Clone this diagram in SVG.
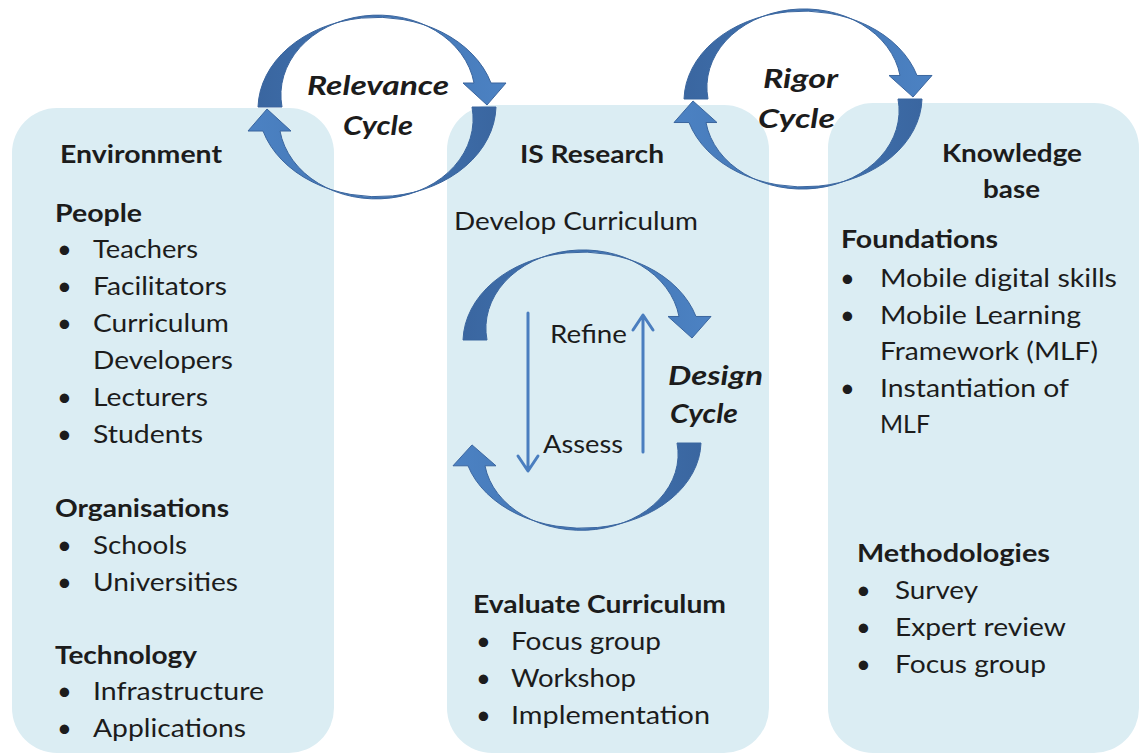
<svg xmlns="http://www.w3.org/2000/svg" width="1141" height="755" viewBox="0 0 1141 755">
  <style>
    .panel { fill: #DBEDF3; }
    text { font-family: Lato, "Open Sans", "Liberation Sans", sans-serif; fill: #1c1c1c; }
    .body { font-size: 25.5px; }
    .head { font-size: 25.5px; font-weight: bold; }
    .cyc { font-size: 27px; font-weight: bold; font-style: italic; }
    .band { fill: url(#bandGrad); stroke: #3A659E; stroke-width: 1; }
    .thin { stroke: #4A7EBF; stroke-width: 3; fill: none; stroke-linecap: round; stroke-linejoin: round; }
  </style>
  <defs>
    <linearGradient id="bandGrad" x1="0" y1="0" x2="1" y2="0">
      <stop offset="0" stop-color="#3A66A0"/>
      <stop offset="0.5" stop-color="#4275B3"/>
      <stop offset="1" stop-color="#4C82C3"/>
    </linearGradient>
    <!-- half-ring arrow: starts flat at the left, sweeps over the top, head points down at the right -->
    <path id="halfRing" class="band" d="M -119 0 A 119 92 0 0 1 114 -24 L 129 -24 L 110 -2 L 86 -24 L 97 -24 A 96 79 0 0 0 -95 0 Z"/>
  </defs>

  <!-- Environment column -->
  <g id="environment">
    <rect class="panel" x="12" y="108" width="322" height="645" rx="45" ry="45"/>
    <text class="head" x="60" y="163" textLength="162" lengthAdjust="spacingAndGlyphs">Environment</text>
    <text class="head" x="55" y="222" textLength="87" lengthAdjust="spacingAndGlyphs">People</text>
    <text class="body" x="57" y="258">•</text>
    <text class="body" x="93" y="258" textLength="105" lengthAdjust="spacingAndGlyphs">Teachers</text>
    <text class="body" x="57" y="295">•</text>
    <text class="body" x="93" y="295" textLength="134" lengthAdjust="spacingAndGlyphs">Facilitators</text>
    <text class="body" x="57" y="332">•</text>
    <text class="body" x="93" y="332" textLength="136" lengthAdjust="spacingAndGlyphs">Curriculum</text>
    <text class="body" x="93" y="369" textLength="140" lengthAdjust="spacingAndGlyphs">Developers</text>
    <text class="body" x="57" y="406">•</text>
    <text class="body" x="93" y="406" textLength="115" lengthAdjust="spacingAndGlyphs">Lecturers</text>
    <text class="body" x="57" y="443">•</text>
    <text class="body" x="93" y="443" textLength="110" lengthAdjust="spacingAndGlyphs">Students</text>
    <text class="head" x="55" y="517" textLength="174" lengthAdjust="spacingAndGlyphs">Organisations</text>
    <text class="body" x="57" y="554">•</text>
    <text class="body" x="93" y="554" textLength="94" lengthAdjust="spacingAndGlyphs">Schools</text>
    <text class="body" x="57" y="591">•</text>
    <text class="body" x="93" y="591" textLength="145" lengthAdjust="spacingAndGlyphs">Universities</text>
    <text class="head" x="55" y="664" textLength="142" lengthAdjust="spacingAndGlyphs">Technology</text>
    <text class="body" x="57" y="700">•</text>
    <text class="body" x="93" y="700" textLength="171" lengthAdjust="spacingAndGlyphs">Infrastructure</text>
    <text class="body" x="57" y="737">•</text>
    <text class="body" x="93" y="737" textLength="153" lengthAdjust="spacingAndGlyphs">Applications</text>
  </g>

  <!-- IS Research column -->
  <g id="is-research">
    <rect class="panel" x="447" y="105" width="322" height="648" rx="45" ry="45"/>
    <text class="head" x="520" y="163" textLength="144" lengthAdjust="spacingAndGlyphs">IS Research</text>
    <text class="body" x="454" y="230" textLength="244" lengthAdjust="spacingAndGlyphs">Develop Curriculum</text>
    <text class="head" x="473" y="613" textLength="253" lengthAdjust="spacingAndGlyphs">Evaluate Curriculum</text>
    <text class="body" x="476" y="650">•</text>
    <text class="body" x="511" y="650" textLength="150" lengthAdjust="spacingAndGlyphs">Focus group</text>
    <text class="body" x="476" y="687">•</text>
    <text class="body" x="511" y="687" textLength="125" lengthAdjust="spacingAndGlyphs">Workshop</text>
    <text class="body" x="476" y="724">•</text>
    <text class="body" x="511" y="724" textLength="199" lengthAdjust="spacingAndGlyphs">Implementation</text>
  </g>

  <!-- Knowledge base column -->
  <g id="knowledge-base">
    <rect class="panel" x="828" y="103" width="311" height="650" rx="45" ry="45"/>
    <text class="head" x="942" y="162" textLength="140" lengthAdjust="spacingAndGlyphs">Knowledge</text>
    <text class="head" x="983" y="198" textLength="57" lengthAdjust="spacingAndGlyphs">base</text>
    <text class="head" x="841" y="248" textLength="157" lengthAdjust="spacingAndGlyphs">Foundations</text>
    <text class="body" x="840" y="287">•</text>
    <text class="body" x="880" y="287" textLength="237" lengthAdjust="spacingAndGlyphs">Mobile digital skills</text>
    <text class="body" x="840" y="324">•</text>
    <text class="body" x="880" y="324" textLength="201" lengthAdjust="spacingAndGlyphs">Mobile Learning</text>
    <text class="body" x="880" y="360" textLength="218" lengthAdjust="spacingAndGlyphs">Framework (MLF)</text>
    <text class="body" x="840" y="397">•</text>
    <text class="body" x="880" y="397" textLength="189" lengthAdjust="spacingAndGlyphs">Instantiation of</text>
    <text class="body" x="880" y="433" textLength="50" lengthAdjust="spacingAndGlyphs">MLF</text>
    <text class="head" x="857" y="562" textLength="193" lengthAdjust="spacingAndGlyphs">Methodologies</text>
    <text class="body" x="856" y="599">•</text>
    <text class="body" x="895" y="599" textLength="83" lengthAdjust="spacingAndGlyphs">Survey</text>
    <text class="body" x="856" y="636">•</text>
    <text class="body" x="895" y="636" textLength="171" lengthAdjust="spacingAndGlyphs">Expert review</text>
    <text class="body" x="856" y="673">•</text>
    <text class="body" x="895" y="673" textLength="151" lengthAdjust="spacingAndGlyphs">Focus group</text>
  </g>

  <!-- cycle arrows -->
  <g id="connectors">
    <g id="relevance-cycle">
      <use href="#halfRing" transform="translate(377,107)"/>
      <use href="#halfRing" transform="translate(377,107) rotate(180)"/>
      <text class="cyc" x="307" y="95" textLength="142" lengthAdjust="spacingAndGlyphs">Relevance</text>
      <text class="cyc" x="343" y="135" textLength="70" lengthAdjust="spacingAndGlyphs">Cycle</text>
    </g>
    <g id="rigor-cycle">
      <use href="#halfRing" transform="translate(803,99) scale(1,0.98)"/>
      <use href="#halfRing" transform="translate(803,99) rotate(180) scale(1,0.98)"/>
      <text class="cyc" x="763" y="88" textLength="75" lengthAdjust="spacingAndGlyphs">Rigor</text>
      <text class="cyc" x="758" y="128" textLength="77" lengthAdjust="spacingAndGlyphs">Cycle</text>
    </g>
    <g id="design-cycle">
      <use href="#halfRing" transform="translate(582,340) scale(1,0.98)"/>
      <use href="#halfRing" transform="translate(582,443) rotate(180) scale(1,0.95)"/>
      <!-- assess: downward arrow -->
      <path class="thin" d="M 528 313 L 528 470 M 518 456 L 528 471 L 538 456"/>
      <!-- refine: upward arrow -->
      <path class="thin" d="M 643 452 L 643 316 M 633 330 L 643 315 L 653 330"/>
      <text class="body" x="550" y="343" textLength="77" lengthAdjust="spacingAndGlyphs">Refine</text>
      <text class="body" x="543" y="453" textLength="80" lengthAdjust="spacingAndGlyphs">Assess</text>
      <text class="cyc" x="668" y="385" textLength="95" lengthAdjust="spacingAndGlyphs">Design</text>
      <text class="cyc" x="670" y="423" textLength="68" lengthAdjust="spacingAndGlyphs">Cycle</text>
    </g>
  </g>
</svg>
